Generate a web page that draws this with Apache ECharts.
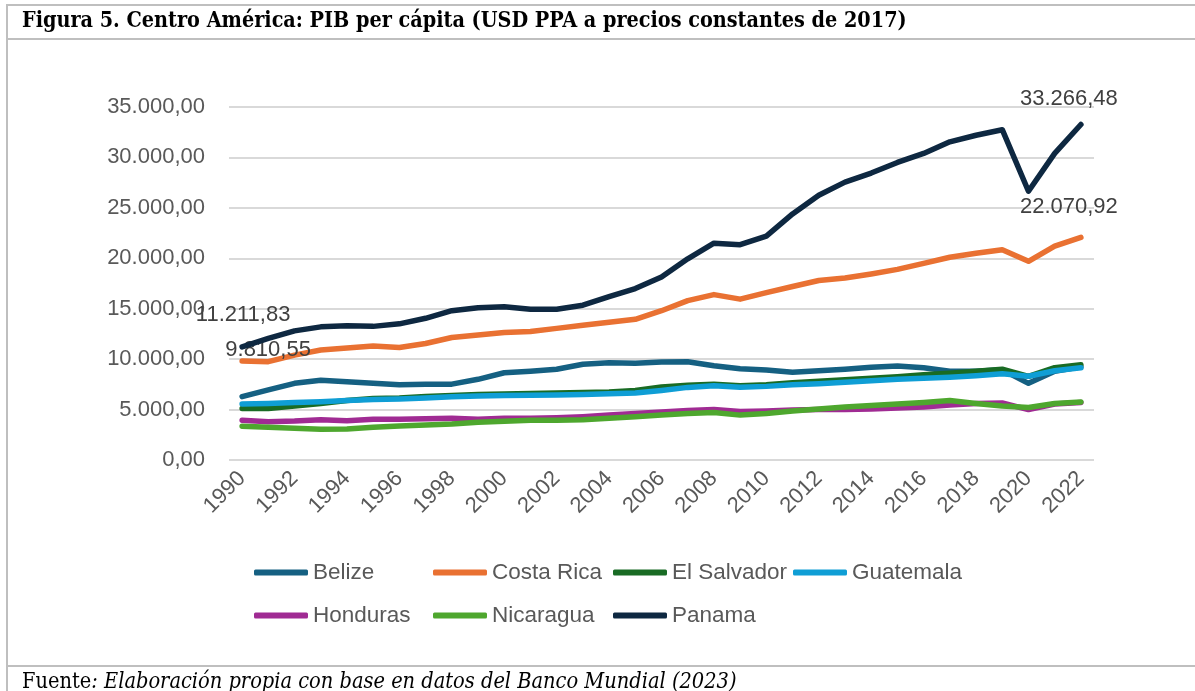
<!DOCTYPE html>
<html>
<head>
<meta charset="utf-8">
<script src="https://cdn.jsdelivr.net/npm/echarts@6/dist/echarts.min.js"></script>
<style>
  html,body{margin:0;padding:0;background:#fff;}
  #wrap{position:relative;width:1195px;height:691px;overflow:hidden;background:#fff;}
  #chart{position:absolute;left:0;top:0;width:1195px;height:691px;}
  .ln{position:absolute;background:#bfbfbf;}
  #title{position:absolute;left:22px;top:7px;font-family:"DejaVu Serif Condensed","DejaVu Serif",serif;font-weight:bold;font-size:21.4px;color:#000;white-space:nowrap;}
  #src{position:absolute;left:22px;top:668px;font-family:"DejaVu Serif Condensed","DejaVu Serif",serif;font-size:21.6px;color:#000;white-space:nowrap;}
</style>
</head>
<body>
<div id="wrap">
  <div id="chart"></div>
  <div class="ln" style="left:6px;top:4px;width:1189px;height:2px;"></div>
  <div class="ln" style="left:6px;top:38px;width:1189px;height:2px;"></div>
  <div class="ln" style="left:6px;top:4px;width:2px;height:687px;"></div>
  <div class="ln" style="left:6px;top:665px;width:1189px;height:2px;"></div>
  <div id="title">Figura 5. Centro América: PIB per cápita (USD PPA a precios constantes de 2017)</div>
  <div id="src">Fuente<i>: Elaboración propia con base en datos del Banco Mundial (2023)</i></div>
</div>
<script>
const years = ['1990','1991','1992','1993','1994','1995','1996','1997','1998','1999','2000','2001','2002','2003','2004','2005','2006','2007','2008','2009','2010','2011','2012','2013','2014','2015','2016','2017','2018','2019','2020','2021','2022'];

const belize     = [6280,6950,7600,7900,7750,7600,7450,7500,7520,8000,8650,8800,9000,9500,9650,9600,9720,9750,9350,9050,8930,8700,8850,9000,9200,9320,9150,8800,8800,8950,7600,8800,9250];
const costaRica  = [9810.55,9750,10400,10900,11100,11300,11150,11550,12150,12400,12650,12750,13050,13350,13650,13950,14800,15800,16400,15950,16600,17200,17800,18050,18450,18900,19500,20100,20500,20850,19700,21200,22070.92];
const elSalvador = [5100,5100,5350,5600,5900,6100,6150,6300,6400,6500,6550,6600,6650,6700,6750,6900,7250,7400,7500,7350,7450,7650,7800,7950,8100,8250,8450,8600,8800,9000,8300,9150,9450];
const guatemala  = [5550,5600,5700,5780,5900,6000,6050,6150,6280,6350,6400,6420,6450,6500,6580,6650,6900,7200,7350,7220,7300,7450,7550,7700,7850,8000,8100,8200,8350,8550,8300,8850,9150];
const honduras   = [3950,3800,3870,4000,3900,4050,4050,4100,4150,4050,4150,4150,4200,4300,4450,4600,4750,4900,5000,4800,4850,4950,5000,5000,5050,5150,5250,5450,5600,5650,5000,5550,5700];
const nicaragua  = [3350,3250,3150,3050,3080,3250,3380,3480,3580,3750,3850,3950,3950,4000,4150,4300,4450,4600,4700,4450,4600,4850,5050,5250,5400,5550,5700,5900,5600,5350,5200,5600,5750];
const panama     = [11211.83,12050,12800,13200,13300,13250,13500,14050,14800,15100,15200,14950,14950,15350,16200,17000,18150,19950,21500,21350,22200,24400,26250,27550,28450,29500,30400,31550,32200,32750,26650,30400,33266.48];

const yTicks = [0,5000,10000,15000,20000,25000,30000,35000];

const names  = ['Belize','Costa Rica','El Salvador','Guatemala','Honduras','Nicaragua','Panama'];
const values = [belize,costaRica,elSalvador,guatemala,honduras,nicaragua,panama];
const colors = ['#156082','#E97132','#196B24','#0F9ED5','#A02B93','#4EA72E','#0E2841'];

const FONT = '"Liberation Sans", Arial, sans-serif';

function fmt(v){
  const s = Math.abs(v).toFixed(2);
  let [ip, dp] = s.split('.');
  ip = ip.replace(/\B(?=(\d{3})+(?!\d))/g, '.');
  return (v<0?'-':'') + ip + ',' + dp;
}

// data-label placement for specific points: [seriesIndex, pointIndex, distance, dx]
const labelSpecs = [
  [6, 0, 21, 1],
  [1, 0, 0, 26],
  [6, 32, 15, -12],
  [1, 32, 19, -12]
];

const series = names.map((n, si) => ({
  name: n,
  type: 'line',
  symbol: 'circle',
  symbolSize: 0,
  showSymbol: true,
  lineStyle: {width: 5.5, color: colors[si], cap: 'round', join: 'round'},
  itemStyle: {color: colors[si]},
  emphasis: {disabled: true},
  z: 2 + si,
  data: values[si].map((v, pi) => {
    const spec = labelSpecs.find(s => s[0] === si && s[1] === pi);
    if (!spec) return v;
    return {
      value: v,
      label: {
        show: true, position: 'top', distance: spec[2], offset: [spec[3], 0],
        formatter: p => fmt(p.value),
        color: '#404040', fontSize: 22, fontFamily: FONT
      }
    };
  })
}));

const legendPos = [[254,561],[433,561],[613,561],[793,561],[254,604],[433,604],[613,604]];
const legends = names.map((n, i) => ({
  data: [n],
  left: legendPos[i][0], top: legendPos[i][1],
  padding: 0,
  icon: 'roundRect',
  itemWidth: 54, itemHeight: 6,
  selectedMode: false,
  textStyle: {color: '#595959', fontSize: 22.5, fontFamily: FONT, padding: [0,0,0,0]}
}));

const chart = echarts.init(document.getElementById('chart'));
chart.setOption({
  animation: false,
  backgroundColor: 'transparent',
  color: colors,
  grid: {left: 229, right: 101, top: 107, bottom: 231},
  legend: legends,
  xAxis: {
    type: 'category',
    data: years,
    boundaryGap: true,
    axisLine: {show: false},
    axisTick: {show: false},
    axisLabel: {interval: 1, rotate: 45, color: '#595959', fontSize: 22, fontFamily: FONT, margin: 15}
  },
  yAxis: {
    type: 'value',
    min: yTicks[0], max: yTicks[yTicks.length-1], interval: 5000,
    axisLine: {show: false},
    axisTick: {show: false},
    splitLine: {lineStyle: {color: '#d9d9d9', width: 2}},
    axisLabel: {color: '#595959', fontSize: 22, fontFamily: FONT, margin: 24, formatter: v => fmt(v)}
  },
  series: series
});
</script>
</body>
</html>
